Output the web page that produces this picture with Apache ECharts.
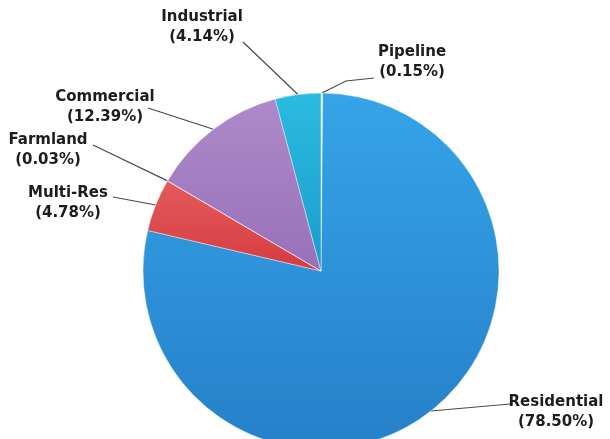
<!DOCTYPE html>
<html>
<head>
<meta charset="utf-8">
<script src="https://cdn.jsdelivr.net/npm/echarts@6/dist/echarts.min.js"></script>
<style>
    html, body { margin: 0; padding: 0; background: #fff; }
    #chart { width: 610px; height: 439px; }
</style>
</head>
<body>
<div id="chart"></div>
<script>
    // slices, clockwise from 12 o'clock
    var categories = ['Pipeline', 'Residential', 'Multi-Res', 'Farmland', 'Commercial', 'Industrial'];
    var shares = [0.15, 78.50, 4.78, 0.03, 12.39, 4.14];
    var colors = [
        ['#f4fbff', '#e6f3fa'],
        ['#36a4e8', '#2580c8'],
        ['#e65a5a', '#d43c42'],
        ['#e65a5a', '#d43c42'],
        ['#ad8acb', '#9870b8'],
        ['#2bbbe0', '#1a9ccc']
    ];

    // where each label sits and where its leader line ends
    var labelSpots = [
        {x: 412, y: 62, line: [[346, 81], [374, 78]]},
        {x: 556, y: 412, line: [[510, 404]]},
        {x: 68, y: 203, line: [[113, 197]]},
        {x: 48, y: 150, line: [[93, 145]]},
        {x: 105, y: 107, line: [[148, 108]]},
        {x: 202, y: 27, line: [[243, 42]]}
    ];

    var chart = echarts.init(document.getElementById('chart'));

    var seriesData = categories.map(function (name, i) {
        return {
            name: name,
            value: shares[i],
            itemStyle: {
                color: new echarts.graphic.LinearGradient(0, 0, 0, 1, [
                    {offset: 0, color: colors[i][0]},
                    {offset: 1, color: colors[i][1]}
                ])
            }
        };
    });

    var option = {
        backgroundColor: '#fff',
        animation: false,
        series: [
            {
                type: 'pie',
                center: [321, 271],
                radius: 178,
                startAngle: 90,
                clockwise: true,
                minAngle: 0,
                avoidLabelOverlap: false,
                itemStyle: {
                    borderColor: 'rgba(255,255,255,0.7)',
                    borderWidth: 0.6
                },
                label: {
                    show: true,
                    position: 'outside',
                    formatter: function (p) {
                        return p.name + '\n(' + p.value.toFixed(2) + '%)';
                    },
                    fontFamily: 'DejaVu Sans',
                    fontWeight: 'bold',
                    fontSize: 15,
                    lineHeight: 20,
                    color: '#1c1c1c',
                    align: 'center'
                },
                labelLine: {
                    show: true,
                    lineStyle: {color: '#4a4a4a', width: 1.2}
                },
                labelLayout: function (params) {
                    var spot = labelSpots[params.dataIndex];
                    var pts = [params.labelLinePoints[0]].concat(spot.line);
                    return {
                        x: spot.x,
                        y: spot.y,
                        align: 'center',
                        verticalAlign: 'middle',
                        labelLinePoints: pts
                    };
                },
                data: seriesData
            }
        ]
    };

    chart.setOption(option);
</script>
</body>
</html>
